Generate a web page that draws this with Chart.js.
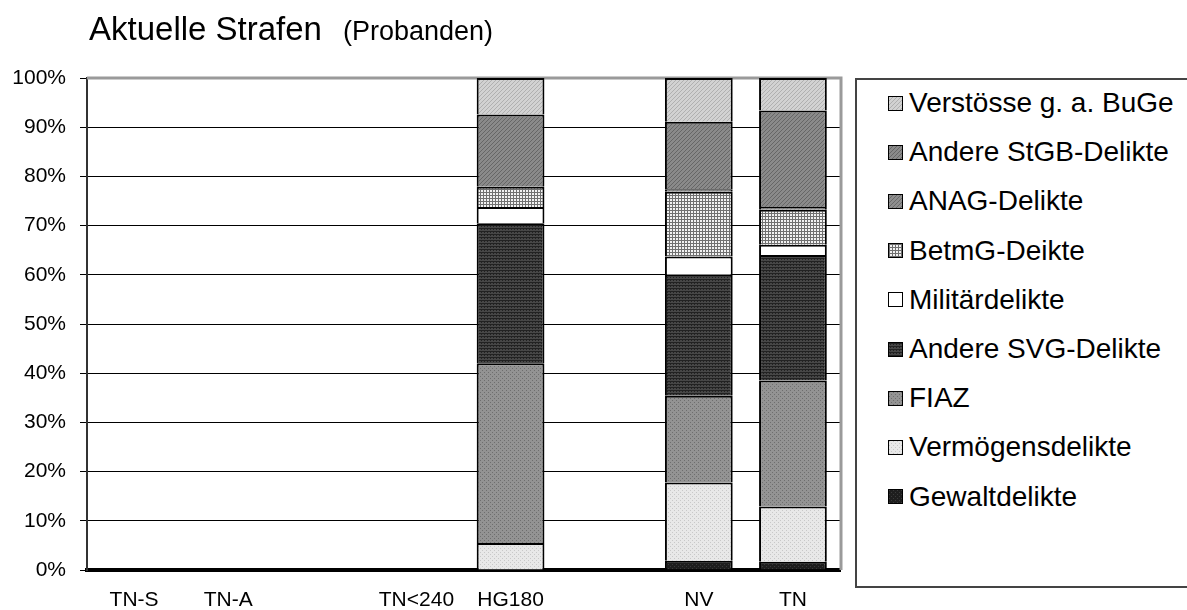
<!DOCTYPE html>
<html>
<head>
<meta charset="utf-8">
<script src="https://cdn.jsdelivr.net/npm/chart.js@4/dist/chart.umd.min.js"></script>
<style>
    html, body { margin: 0; padding: 0; background: #fff; }
    body { width: 1187px; height: 610px; position: relative; overflow: hidden; font-family: 'Liberation Sans', Arial, sans-serif; }
    #chartWrap { position: absolute; left: 0; top: 0; width: 850px; height: 610px; }
    #title { position: absolute; left: 89px; top: 10px; font-size: 33px; color: #000; white-space: nowrap; }
    #title small { font-size: 27px; margin-left: 21px; }
    #legend { position: absolute; left: 855px; top: 78px; width: 340px; height: 510px; border: 2px solid #444; border-right: none; box-sizing: border-box; }
    .item { position: absolute; left: 31px; height: 30px; display: flex; align-items: center; font-size: 28px; white-space: nowrap; }
    .swatch { width: 13px; height: 13px; border: 1.5px solid #000; margin-right: 6px; }
</style>
</head>
<body>
<div id="chartWrap"><canvas id="chart" width="850" height="610"></canvas></div>
<div id="title">Aktuelle Strafen<small>(Probanden)</small></div>
<div id="legend"></div>

<script>
// categories along the x axis (two empty slots)
const categories = ['TN-S', 'TN-A', '', 'TN<240', 'HG180', '', 'NV', 'TN'];
const yTicks = [0, 10, 20, 30, 40, 50, 60, 70, 80, 90, 100];

// series, bottom to top (percent)
const gewalt     = [null, null, null, null, null, null, 1.9,  1.7];
const vermoegen  = [null, null, null, null, 5.5,  null, 15.9, 11.2];
const fiaz       = [null, null, null, null, 36.5, null, 17.6, 25.6];
const andereSvg  = [null, null, null, null, 28.5, null, 24.6, 25.5];
const militaer   = [null, null, null, null, 3.3,  null, 3.7,  2.1];
const betmg      = [null, null, null, null, 4.1,  null, 13.2, 7.1];
const anag       = [null, null, null, null, null, null, 0.5,  0.6];
const andereStgb = [null, null, null, null, 14.7, null, 13.7, 19.6];
const verstoesse = [null, null, null, null, 7.4,  null, 8.9,  6.6];

// small tile patterns for the grey fills
function makeTile(size, draw) {
    const c = document.createElement('canvas');
    c.width = size; c.height = size;
    const g = c.getContext('2d');
    draw(g, size);
    return c;
}
function dots(base, dot) {
    return makeTile(4, (g, s) => {
        g.fillStyle = base; g.fillRect(0, 0, s, s);
        g.fillStyle = dot;
        g.fillRect(0, 0, 1, 1); g.fillRect(2, 2, 1, 1);
    });
}
function diag(base, line) {
    return makeTile(4, (g, s) => {
        g.fillStyle = base; g.fillRect(0, 0, s, s);
        g.fillStyle = line;
        for (let i = 0; i < s; i++) g.fillRect(i, s - 1 - i, 1, 1);
    });
}
function grid(base, line) {
    return makeTile(3, (g, s) => {
        g.fillStyle = base; g.fillRect(0, 0, s, s);
        g.fillStyle = line;
        g.fillRect(0, 0, s, 1); g.fillRect(0, 0, 1, s);
    });
}
function rows(base, line) {
    return makeTile(3, (g, s) => {
        g.fillStyle = base; g.fillRect(0, 0, s, s);
        g.fillStyle = line;
        g.fillRect(0, 0, s, 1); g.fillRect(1, 1, 1, 1);
    });
}

const tiles = {
    gewalt: dots('#1e1e1e', '#3a3a3a'),
    vermoegen: dots('#e8e8e8', '#c8c8c8'),
    fiaz: dots('#939393', '#6e6e6e'),
    andereSvg: rows('#474747', '#222'),
    militaer: makeTile(2, (g, s) => { g.fillStyle = '#fff'; g.fillRect(0, 0, s, s); }),
    betmg: grid('#f2f2f2', '#707070'),
    anag: diag('#8e8e8e', '#6a6a6a'),
    andereStgb: diag('#8a8a8a', '#666'),
    verstoesse: diag('#d2d2d2', '#b0b0b0')
};

const ctx = document.getElementById('chart').getContext('2d');
const pat = key => ctx.createPattern(tiles[key], 'repeat');

const series = [
    { label: 'Gewaltdelikte', data: gewalt, key: 'gewalt' },
    { label: 'Vermögensdelikte', data: vermoegen, key: 'vermoegen' },
    { label: 'FIAZ', data: fiaz, key: 'fiaz' },
    { label: 'Andere SVG-Delikte', data: andereSvg, key: 'andereSvg' },
    { label: 'Militärdelikte', data: militaer, key: 'militaer' },
    { label: 'BetmG-Deikte', data: betmg, key: 'betmg' },
    { label: 'ANAG-Delikte', data: anag, key: 'anag' },
    { label: 'Andere StGB-Delikte', data: andereStgb, key: 'andereStgb' },
    { label: 'Verstösse g. a. BuGe', data: verstoesse, key: 'verstoesse' }
];

// grey frame on top and right of the plot
const frame = {
    id: 'frame',
    beforeDatasetsDraw(chart) {
        const a = chart.chartArea, c = chart.ctx;
        c.save();
        c.strokeStyle = '#9a9a9a';
        c.lineWidth = 3;
        c.beginPath();
        c.moveTo(a.left, a.top);
        c.lineTo(a.right + 1, a.top);
        c.lineTo(a.right + 1, a.bottom);
        c.stroke();
        c.restore();
    }
};

new Chart(ctx, {
    type: 'bar',
    data: {
        labels: categories,
        datasets: series.map(s => ({
            label: s.label,
            data: s.data,
            backgroundColor: pat(s.key),
            borderColor: '#000',
            borderWidth: 2,
            borderSkipped: 'start',
            categoryPercentage: 1,
            barPercentage: 0.72
        }))
    },
    plugins: [frame],
    options: {
        responsive: false,
        animation: false,
        layout: { padding: { top: 78, right: 10, left: 0, bottom: 0 } },
        plugins: { legend: { display: false }, tooltip: { enabled: false } },
        scales: {
            x: {
                stacked: true,
                grid: { display: false },
                border: { color: '#000', width: 4 },
                ticks: { color: '#000', padding: 10, font: { family: 'Liberation Sans', size: 21 } },
                afterFit: s => { s.height = 40; }
            },
            y: {
                stacked: true,
                min: 0,
                max: 100,
                afterBuildTicks: s => { s.ticks = yTicks.map(v => ({ value: v })); },
                grid: { color: '#000', lineWidth: 1, tickLength: 7 },
                border: { color: '#333', width: 2 },
                ticks: {
                    color: '#000',
                    padding: 14,
                    font: { family: 'Liberation Sans', size: 21 },
                    callback: v => v + '%'
                },
                afterFit: s => { s.width = 87; }
            }
        }
    }
});

// legend box, top entry is the top of the stack
const legend = document.getElementById('legend');
series.slice().reverse().forEach((s, i) => {
    const item = document.createElement('div');
    item.className = 'item';
    item.style.top = (8 + i * 49.2) + 'px';
    const sw = document.createElement('div');
    sw.className = 'swatch';
    sw.style.backgroundImage = 'url(' + tiles[s.key].toDataURL() + ')';
    item.appendChild(sw);
    item.appendChild(document.createTextNode(s.label));
    legend.appendChild(item);
});
</script>
</body>
</html>
